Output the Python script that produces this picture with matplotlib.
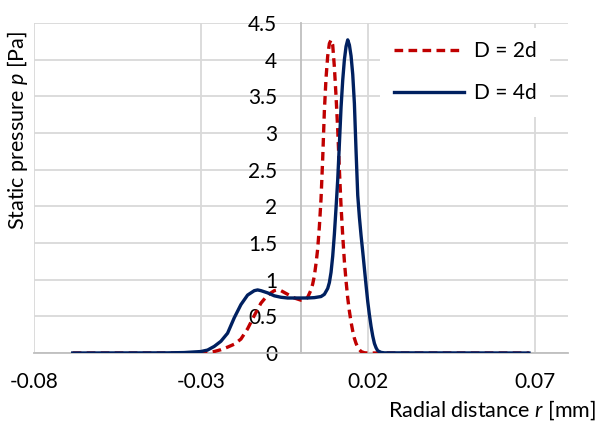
import matplotlib
matplotlib.use("Agg")
import matplotlib.pyplot as plt
from matplotlib.ticker import MultipleLocator, FixedLocator

plt.rcParams['font.family'] = ['Lato', 'DejaVu Sans']
plt.rcParams['axes.unicode_minus'] = False
plt.rcParams['mathtext.fontset'] = 'custom'
plt.rcParams['mathtext.rm'] = 'Lato'
plt.rcParams['mathtext.it'] = 'Lato:italic'

# Radial distance [mm] and static pressure [Pa], D = 2d
r_2d = [-0.0684, -0.04, -0.03, -0.028, -0.026, -0.024, -0.022, -0.020, -0.018,
        -0.016, -0.014, -0.012, -0.010, -0.008, -0.007, -0.006, -0.004, -0.002,
        0.000, 0.001, 0.002, 0.003, 0.0035, 0.004, 0.0045, 0.005, 0.0055,
        0.006, 0.0065, 0.007, 0.0075, 0.008, 0.0085, 0.009, 0.0095, 0.010,
        0.0105, 0.011, 0.0115, 0.012, 0.0125, 0.013, 0.0135, 0.014, 0.0145,
        0.015, 0.0155, 0.016, 0.0165, 0.017, 0.0175, 0.018, 0.019, 0.020, 0.0683]
p_2d = [0.0, 0.0, 0.003, 0.008, 0.02, 0.045, 0.08, 0.12, 0.19,
        0.33, 0.51, 0.68, 0.79, 0.85, 0.86, 0.85, 0.80, 0.75,
        0.72, 0.72, 0.76, 0.86, 0.94, 1.05, 1.22, 1.42, 1.72,
        2.1, 2.65, 3.3, 3.75, 4.05, 4.22, 4.27, 4.2, 3.9,
        3.5, 3.05, 2.5, 2.0, 1.6, 1.25, 0.98, 0.75, 0.57,
        0.42, 0.3, 0.2, 0.13, 0.08, 0.045, 0.02, 0.003, 0.0, 0.0]

# D = 4d
r_4d = [-0.0684, -0.04, -0.035, -0.03, -0.028, -0.026, -0.024, -0.022, -0.020,
        -0.018, -0.016, -0.014, -0.013, -0.012, -0.010, -0.008, -0.006, -0.004,
        -0.002, 0.000, 0.002, 0.004, 0.006, 0.007, 0.008, 0.0085, 0.009,
        0.0095, 0.010, 0.0105, 0.011, 0.0115, 0.012, 0.0125, 0.013, 0.0135,
        0.014, 0.0145, 0.015, 0.0155, 0.016, 0.0165, 0.017, 0.0175, 0.018,
        0.0185, 0.019, 0.0195, 0.020, 0.0205, 0.021, 0.0215, 0.022, 0.0225,
        0.023, 0.024, 0.025, 0.0683]
p_4d = [0.0, 0.002, 0.006, 0.02, 0.04, 0.09, 0.16, 0.27, 0.48,
        0.66, 0.79, 0.85, 0.86, 0.85, 0.82, 0.78, 0.76, 0.75,
        0.75, 0.75, 0.75, 0.755, 0.77, 0.80, 0.88, 0.96, 1.1,
        1.32, 1.62, 1.98, 2.36, 2.85, 3.35, 3.72, 4.0, 4.18,
        4.27, 4.2, 4.05, 3.8, 3.4, 2.75, 2.15, 1.85, 1.6,
        1.38, 1.15, 0.92, 0.7, 0.52, 0.36, 0.23, 0.13, 0.07,
        0.03, 0.008, 0.002, 0.0]

x_ticks = [-0.08, -0.03, 0.02, 0.07]
x_tick_labels = ['-0.08', '-0.03', '0.02', '0.07']

fig = plt.figure(figsize=(5.98, 4.23), dpi=100)
ax = fig.add_axes([34 / 598, 1 - 353 / 423, 534 / 598, 330 / 423])

ax.plot(r_2d, p_2d, color='#C00000', lw=2.4, ls=(0, (2.6, 1.6)),
        label='D = 2d', zorder=3, solid_joinstyle='round')
ax.plot(r_4d, p_4d, color='#002060', lw=2.4, label='D = 4d', zorder=4,
        solid_joinstyle='round')

ax.set_xlim(-0.08, 0.08)
ax.set_ylim(0, 4.5)
ax.xaxis.set_major_locator(FixedLocator(x_ticks))
ax.set_xticklabels(x_tick_labels)
ax.yaxis.set_major_locator(MultipleLocator(0.5))
ax.yaxis.set_major_formatter(plt.FuncFormatter(lambda v, _: f'{v:g}'))

ax.set_axisbelow(True)
ax.grid(True, color='#d9d9d9', lw=1.3)

for side in ('top', 'right'):
    ax.spines[side].set_visible(False)
ax.spines['left'].set_position(('data', 0))
ax.spines['left'].set_color('#bfbfbf')
ax.spines['left'].set_linewidth(1.3)
ax.spines['bottom'].set_color('#bfbfbf')
ax.spines['bottom'].set_linewidth(1.3)

ax.tick_params(axis='both', length=0, labelsize=15, colors='black')
ax.tick_params(axis='x', pad=14)
ax.tick_params(axis='y', pad=17)

ax.set_xlabel('Radial distance $r$ [mm]', fontsize=15.5, ha='right')
ax.xaxis.label.set_va('center')
ax.xaxis.set_label_coords(1.0524, -0.173)

ax.set_ylabel('Static pressure $p$ [Pa]', fontsize=15.5)
ax.yaxis.label.set_va('center')
ax.yaxis.set_label_coords(-0.030, 0.673)

leg = ax.legend(loc='upper left', bbox_to_anchor=(0.648, 0.985),
                bbox_transform=ax.transAxes, borderaxespad=0,
                frameon=True, facecolor='white', edgecolor='none',
                framealpha=1, fancybox=False, fontsize=15,
                handlelength=3.37, handletextpad=0.48, labelspacing=1.05,
                borderpad=0.65)

fig.savefig('out.png', dpi=100)
